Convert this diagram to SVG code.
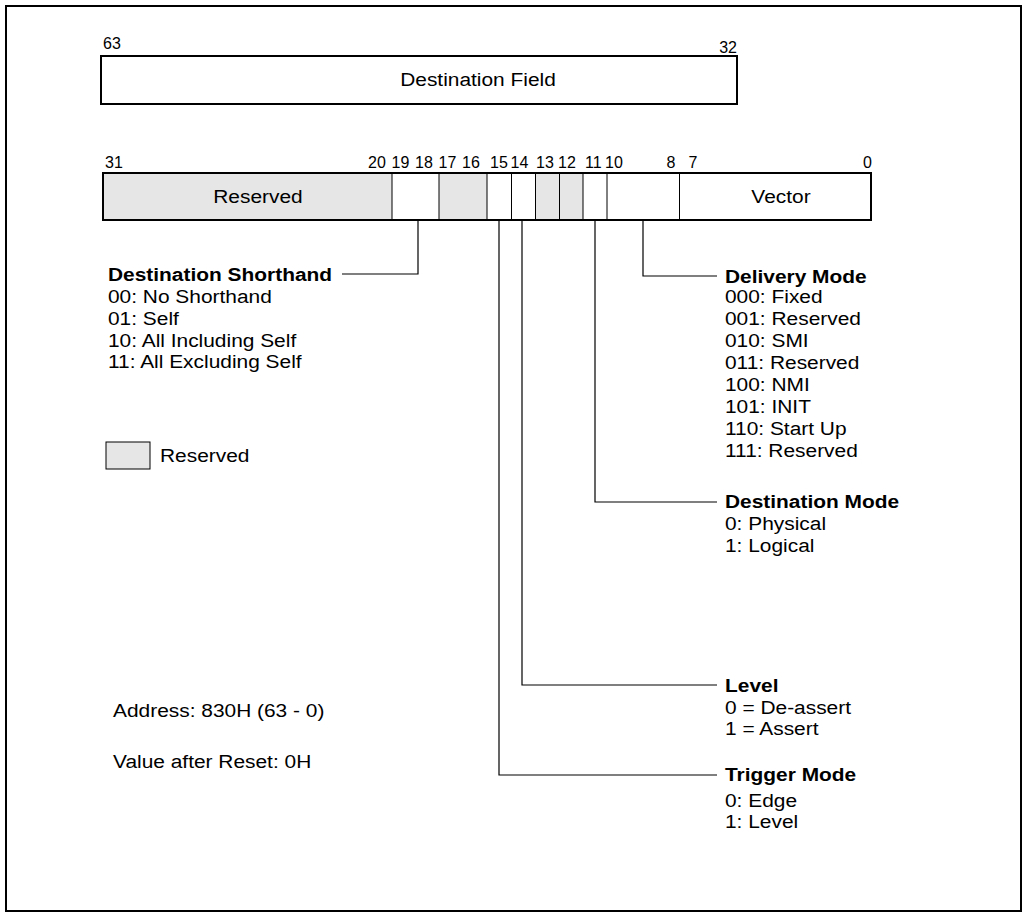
<svg xmlns="http://www.w3.org/2000/svg" width="1024" height="913" viewBox="0 0 1024 913">
<style>
.t{font-family:"Liberation Sans",Arial,sans-serif;font-size:19px;fill:#000}
.b{font-weight:bold}
.n{font-family:"Liberation Sans",Arial,sans-serif;font-size:16px;fill:#000}
.box{fill:#fff;stroke:#000;stroke-width:2}
.res{fill:#e6e6e6;stroke:none}
.div{stroke:#000;stroke-width:1;fill:none}
.con{stroke:#000;stroke-width:1.2;fill:none}
</style>
<rect x="6" y="6" width="1015" height="905" fill="#fff" stroke="#000" stroke-width="2"/>

<g id="destination-field">
<rect class="box" x="101" y="56" width="636" height="48"/>
<text class="t" transform="translate(478,86) scale(1.1,1)" text-anchor="middle">Destination Field</text>
<text class="n" x="103" y="49">63</text>
<text class="n" x="737" y="53" text-anchor="end">32</text>
</g>

<g id="register">
<rect x="103" y="173" width="768" height="47" fill="#fff"/>
<rect class="res" x="103" y="173" width="289" height="47"/>
<rect class="res" x="439" y="173" width="48" height="47"/>
<rect class="res" x="536" y="173" width="47" height="47"/>
<path class="div" d="M392,173V220M439,173V220M487,173V220M511.5,173V220M535.5,173V220M559.5,173V220M583,173V220M607,173V220M679.5,173V220"/>
<rect x="103" y="173" width="768" height="47" fill="none" stroke="#000" stroke-width="2"/>
<text class="t" transform="translate(258,203) scale(1.1,1)" text-anchor="middle">Reserved</text>
<text class="t" transform="translate(781,203) scale(1.1,1)" text-anchor="middle">Vector</text>
<text class="n" x="105" y="168">31</text>
<text class="n" x="368" y="168">20</text>
<text class="n" x="391.5" y="168">19</text>
<text class="n" x="415" y="168">18</text>
<text class="n" x="438.5" y="168">17</text>
<text class="n" x="462" y="168">16</text>
<text class="n" x="490" y="168">15</text>
<text class="n" x="510.5" y="168">14</text>
<text class="n" x="536" y="168">13</text>
<text class="n" x="558" y="168">12</text>
<text class="n" x="585" y="168">11</text>
<text class="n" x="605" y="168">10</text>
<text class="n" x="666.5" y="168">8</text>
<text class="n" x="688.5" y="168">7</text>
<text class="n" x="872" y="168" text-anchor="end">0</text>
</g>

<g id="connectors">
<path class="con" d="M418,220V274H342"/>
<path class="con" d="M643,220V276H717"/>
<path class="con" d="M595,220V502H717"/>
<path class="con" d="M522,220V685H717"/>
<path class="con" d="M499,220V775H717"/>
</g>

<g id="destination-shorthand">
<text class="t" transform="translate(108,0) scale(1.1,1)"><tspan x="0" y="281" class="b">Destination Shorthand</tspan><tspan x="0" y="303">00: No Shorthand</tspan><tspan x="0" y="325">01: Self</tspan><tspan x="0" y="347">10: All Including Self</tspan><tspan x="0" y="368">11: All Excluding Self</tspan></text>
</g>

<g id="legend">
<rect x="106" y="442" width="44" height="27" fill="#e6e6e6" stroke="#000" stroke-width="1"/>
<text class="t" transform="translate(160,462) scale(1.1,1)">Reserved</text>
</g>

<g id="delivery-mode">
<text class="t" transform="translate(725,0) scale(1.1,1)"><tspan x="0" y="283" class="b">Delivery Mode</tspan><tspan x="0" y="303">000: Fixed</tspan><tspan x="0" y="325">001: Reserved</tspan><tspan x="0" y="347">010: SMI</tspan><tspan x="0" y="369">011: Reserved</tspan><tspan x="0" y="391">100: NMI</tspan><tspan x="0" y="413">101: INIT</tspan><tspan x="0" y="435">110: Start Up</tspan><tspan x="0" y="457">111: Reserved</tspan></text>
</g>

<g id="destination-mode">
<text class="t" transform="translate(725,0) scale(1.1,1)"><tspan x="0" y="508" class="b">Destination Mode</tspan><tspan x="0" y="530">0: Physical</tspan><tspan x="0" y="552">1: Logical</tspan></text>
</g>

<g id="level">
<text class="t" transform="translate(725,0) scale(1.1,1)"><tspan x="0" y="692" class="b">Level</tspan><tspan x="0" y="714">0 = De-assert</tspan><tspan x="0" y="735">1 = Assert</tspan></text>
</g>

<g id="trigger-mode">
<text class="t" transform="translate(725,0) scale(1.1,1)"><tspan x="0" y="781" class="b">Trigger Mode</tspan><tspan x="0" y="807">0: Edge</tspan><tspan x="0" y="828">1: Level</tspan></text>
</g>

<g id="info">
<text class="t" transform="translate(113,717) scale(1.1,1)">Address: 830H (63 - 0)</text>
<text class="t" transform="translate(113,768) scale(1.1,1)">Value after Reset: 0H</text>
</g>
</svg>
